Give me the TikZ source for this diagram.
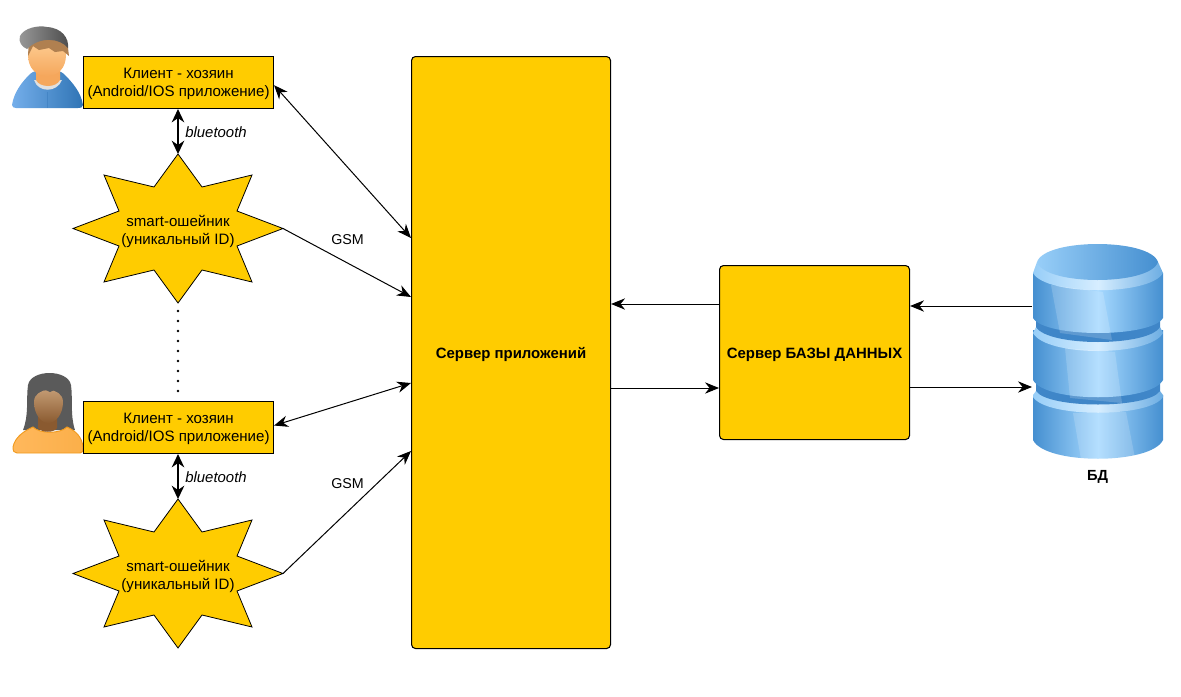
\documentclass[tikz,border=0pt]{standalone}
\usepackage{fontspec}
\setmainfont{Liberation Sans}
\usetikzlibrary{arrows.meta}
\definecolor{gold}{HTML}{FFCC00}
\definecolor{dbdark}{HTML}{458FD0}
\definecolor{dbmid}{HTML}{A6D9FF}
\definecolor{dbgroove}{HTML}{3F86C8}
\definecolor{hoodL}{HTML}{74AEEA}
\definecolor{hoodR}{HTML}{2F74B5}
\definecolor{skinL}{HTML}{FFD29A}
\definecolor{skinD}{HTML}{F5A75C}
\definecolor{hairM}{HTML}{B08050}
\definecolor{capL}{HTML}{999999}
\definecolor{capD}{HTML}{4D4D4D}
\definecolor{orangeL}{HTML}{FFB85C}
\definecolor{orangeD}{HTML}{F09A1E}
\definecolor{hairW}{HTML}{5A5A5A}
\definecolor{faceL}{HTML}{C9A27A}
\definecolor{faceD}{HTML}{8A5A30}
\tikzset{
  px/.style={x=0.75pt,y=-0.75pt},
  box/.style={draw=black,fill=gold,line width=0.8pt,align=center,font=\fontsize{11.3pt}{13.5pt}\selectfont,inner sep=0pt,anchor=north west},
  server/.style={box,rounded corners=3pt,font=\bfseries\fontsize{11.2pt}{13pt}\selectfont},
  startxt/.style={align=center,font=\fontsize{11.3pt}{13.5pt}\selectfont,inner sep=0pt},
  lbl/.style={inner sep=0pt,font=\fontsize{10.7pt}{12pt}\selectfont},
  btlbl/.style={inner sep=0pt,font=\itshape\fontsize{11.2pt}{12pt}\selectfont},
  link/.style={line width=0.75pt,-{Stealth[length=10.5pt,width=8.5pt]}},
  dlink/.style={line width=0.75pt,{Stealth[length=10.5pt,width=8.5pt]}-{Stealth[length=10.5pt,width=8.5pt]}},
  btlink/.style={line width=0.9pt,{Stealth[length=10pt,width=9.5pt]}-{Stealth[length=10pt,width=9.5pt]}},
  starshape/.style={draw=black,fill=gold,line width=0.6pt,line join=miter},
  bodyshade/.style={left color=dbdark,right color=dbdark,middle color=dbmid,draw=none},
  rimshade/.style={left color=dbmid!85!dbdark,right color=dbdark!60!dbmid,middle color=white!55!dbmid,draw=none},
  glass/.style={fill=white,fill opacity=0.17,draw=none},
}
\newcommand{\collar}[2]{%
  \begin{scope}[yshift=#2]
    \path[starshape] (178,154)--(202,187)--(252,175)--(237,211)--(283,228.5)--(237,246)--(252,282)--(202,270)--(178,303)--(154,270)--(104,282)--(119,246)--(73,228.5)--(119,211)--(104,175)--(154,187)--cycle;
    \coordinate (#1top) at (178,154);
    \coordinate (#1bot) at (178,303);
    \coordinate (#1right) at (283,228.5);
    \node[startxt] (#1) at (178,231) {smart-ошейник\\(уникальный ID)};
  \end{scope}}
\begin{document}
\begin{tikzpicture}[px]
\useasboundingbox (0,0) rectangle (1181,696);

% man
\path[left color=hoodL,right color=hoodR] (12,105) .. controls (14,92) and (22,82) .. (30,74) .. controls (36,68) and (58,68) .. (64,74)
  .. controls (72,82) and (81,92) .. (83,105) .. controls (83,108) and (80,108) .. (78,108) -- (16,108) .. controls (14,108) and (12,107) .. (12,105) -- cycle;
\path[fill=hoodR!70!hoodL] (47,108) -- (47,92) -- (48,92) -- (48,108) -- cycle;
\path[fill=black!12] (34,80) .. controls (38,93) and (57,93) .. (62,80) -- cycle;
\path[fill=skinD] (36,66) -- (60,66) -- (60,80) .. controls (56,88) and (40,88) .. (36,80) -- cycle;
\path[top color=skinL,bottom color=skinD] (28,55) .. controls (28,36) and (66,36) .. (66,55) .. controls (66,68) and (58,76) .. (47,76) .. controls (36,76) and (28,68) .. (28,55) -- cycle;
\path[fill=hairM] (28,56) -- (29,38) -- (67,40) -- (69,56) -- (63,51) -- (55,52) -- (49,48) -- (39,50) -- (33,46) -- cycle;
\path[left color=capL,right color=capD] (27,49) .. controls (22,47) and (18,42) .. (20,36) .. controls (24,28) and (38,25) .. (47,27) .. controls (62,28) and (69,38) .. (68,48) .. controls (60,38) and (40,36) .. (27,49) -- cycle;

% woman
\path[fill=hairW] (23,430) .. controls (29,415) and (26,400) .. (28,385) .. controls (31,369) and (68,369) .. (71,385) .. controls (73,400) and (70,415) .. (75,430) -- cycle;
\path[left color=orangeL,right color=orangeL!70!orangeD,draw=orangeD,line width=0.7pt] (13,447) .. controls (15,437) and (24,431) .. (33,427) .. controls (40,434) and (60,434) .. (67,427) .. controls (76,431) and (82,437) .. (83,447) .. controls (83,452) and (82,453) .. (80,453) -- (17,453) .. controls (14,453) and (13,451) .. (13,447) -- cycle;
\path[fill=faceD] (38,415) -- (57,415) -- (57,428) .. controls (54,433) and (42,433) .. (38,428) -- cycle;
\path[top color=faceL,bottom color=faceD] (34,402) .. controls (34,386) and (63,386) .. (63,402) .. controls (63,414) and (56,423) .. (48,423) .. controls (41,423) and (34,414) .. (34,402) -- cycle;
\path[fill=hairW] (34,392) .. controls (38,378) and (60,378) .. (64,392) -- (56,389) -- (50,392) -- (44,389) -- (38,393) -- cycle;

% database
\path[bodyshade] (1033,395) -- (1033,440) .. controls (1045,465) and (1151,465) .. (1163,440) -- (1163,395) -- cycle;
\path[rimshade] (1033,397) -- (1033,395) -- (1036,391) -- (1160,391) -- (1163,395) -- (1163,397) .. controls (1150,418) and (1046,418) .. (1033,397) -- cycle;
\path[fill=dbgroove] (1036,380) -- (1160,380) -- (1160,391) .. controls (1148,409) and (1048,409) .. (1036,391) -- cycle;
\path[bodyshade] (1033,330) -- (1033,380) .. controls (1045,403) and (1151,403) .. (1163,380) -- (1163,330) -- cycle;
\path[rimshade] (1033,333) -- (1036,327) -- (1160,327) -- (1163,333) .. controls (1150,357) and (1046,357) .. (1033,333) -- cycle;
\path[fill=dbgroove] (1036,316) -- (1160,316) -- (1160,327) .. controls (1148,347) and (1048,347) .. (1036,327) -- cycle;
\path[bodyshade] (1033,273) -- (1033,318) .. controls (1045,338) and (1151,338) .. (1163,318) -- (1163,273) -- cycle;
\path[rimshade] (1033,273) -- (1037,262) -- (1158,262) -- (1163,273) .. controls (1150,296) and (1046,296) .. (1033,273) -- cycle;
\path[left color=dbmid!85!dbdark,right color=dbdark] (1037,262) .. controls (1045,238) and (1150,238) .. (1158,262) .. controls (1150,286) and (1045,286) .. (1037,262) -- cycle;
\path[glass] (1051,285) -- (1060,333) -- (1112,340) -- (1103,292) -- cycle;
\path[glass] (1065,348) -- (1070,398) -- (1122,403) -- (1115,352) -- cycle;
\path[glass] (1073,413) -- (1081,459.5) -- (1135,458) -- (1126,412) -- cycle;

% nodes
\node[box,minimum width=190*0.75pt,minimum height=52*0.75pt] (c1) at (83,56) {\rule{0pt}{10.5pt}Клиент - хозяин\\(Android/IOS приложение)};
\node[box,minimum width=190*0.75pt,minimum height=52*0.75pt] (c2) at (83,401) {\rule{0pt}{10.5pt}Клиент - хозяин\\(Android/IOS приложение)};
\collar{s1}{0pt}
\collar{s2}{-258.75pt}
\node[server,minimum width=199*0.75pt,minimum height=592*0.75pt] (app) at (411,56) {\rule{0pt}{12pt}Сервер приложений};
\node[server,minimum width=190*0.75pt,minimum height=174*0.75pt] (dbs) at (719,265) {\rule{0pt}{12pt}Сервер БАЗЫ ДАННЫХ};
\coordinate (db) at (1032,350);
\node[font=\bfseries\fontsize{11pt}{12pt}\selectfont,inner sep=0pt] (dbl) at (1097.5,477) {БД};

% connectors
\draw[btlink] (c1.south -| s1top) -- (s1top);
\draw[btlink] (c2.south -| s2top) -- (s2top);
\draw[line width=1.9pt,line cap=round,dash pattern=on 0pt off 7.5pt] (s1bot) ++(0,8) -- (c2.north -| s1bot);
\draw[dlink] ([yshift=-2pt]c1.east) -- (app.north west |- 0,238);
\draw[link] (s1right) -- (app.north west |- 0,297);
\draw[dlink] ([yshift=1.5pt]c2.east) -- (app.north west |- 0,383);
\draw[link] (s2right) -- (app.north west |- 0,451);
\draw[link] (dbs.west |- 0,304) -- (app.east |- 0,304);
\draw[link] (app.east |- 0,388) -- (dbs.west |- 0,388);
\draw[link] (db |- 0,306) -- (dbs.east |- 0,306);
\draw[link] (dbs.east |- 0,387) -- (db |- 0,387);

% labels
\node[lbl] (g1) at (347.5,240) {GSM};
\node[lbl] (g2) at (347.5,484) {GSM};
\node[btlbl] (b1) at (216,132) {bluetooth};
\node[btlbl] (b2) at (216,477) {bluetooth};
\end{tikzpicture}
\end{document}
